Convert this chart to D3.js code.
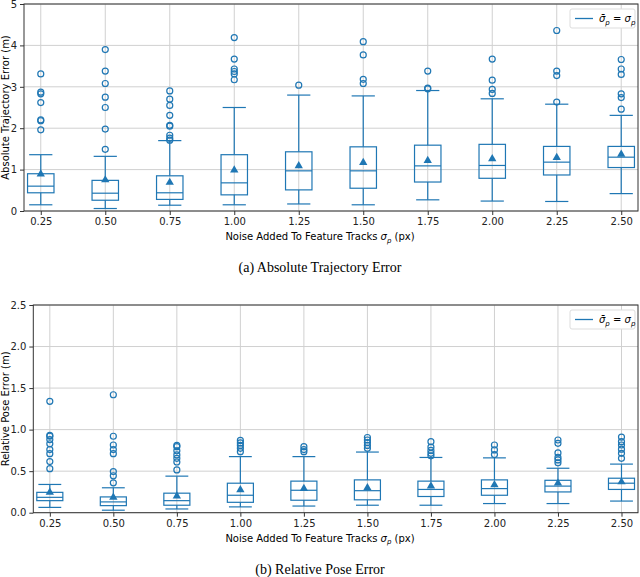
<!DOCTYPE html>
<html>
<head>
<meta charset="utf-8">
<script src="https://cdn.jsdelivr.net/npm/d3@7"></script>
<style>
  body { margin: 0; background: #fff; }
  svg { display: block; }
  .tick text { font-family: "DejaVu Sans", sans-serif; }
</style>
</head>
<body>
<div id="chart"></div>
<script>
// Noise levels on the x axis
const sigmas = [0.25, 0.50, 0.75, 1.00, 1.25, 1.50, 1.75, 2.00, 2.25, 2.50];

// Absolute trajectory error (m): whisker low, Q1, median, Q3, whisker high, mean
const ateLow  = [0.15, 0.06, 0.14, 0.15, 0.17, 0.15, 0.27, 0.24, 0.23, 0.42];
const ateQ1   = [0.44, 0.26, 0.28, 0.39, 0.51, 0.55, 0.70, 0.79, 0.87, 1.05];
const ateMed  = [0.60, 0.43, 0.44, 0.68, 0.97, 0.97, 1.09, 1.10, 1.18, 1.30];
const ateQ3   = [0.90, 0.74, 0.85, 1.36, 1.43, 1.55, 1.59, 1.61, 1.56, 1.56];
const ateHigh = [1.36, 1.32, 1.70, 2.50, 2.80, 2.78, 2.91, 2.71, 2.58, 2.31];
const ateMean = [0.89, 0.75, 0.69, 0.99, 1.09, 1.17, 1.22, 1.26, 1.29, 1.37];
const ateOut  = [
  [1.96, 2.18, 2.20, 2.62, 2.83, 2.87, 3.31],
  [1.49, 1.98, 2.50, 2.75, 3.08, 3.38, 3.90],
  [1.71, 1.76, 1.83, 2.05, 2.07, 2.31, 2.55, 2.70, 2.90],
  [3.17, 3.31, 3.37, 3.43, 3.67, 4.19],
  [3.04],
  [3.08, 3.18, 3.77, 4.09],
  [2.95, 2.97, 3.38],
  [2.84, 2.94, 3.16, 3.67],
  [2.63, 3.27, 3.38, 4.36],
  [2.46, 2.74, 2.83, 3.30, 3.43, 3.66]
];

// Relative pose error (m)
const rpeLow  = [0.064, 0.03, 0.045, 0.07, 0.08, 0.09, 0.09, 0.11, 0.11, 0.14];
const rpeQ1   = [0.145, 0.085, 0.09, 0.125, 0.15, 0.155, 0.195, 0.21, 0.25, 0.28];
const rpeMed  = [0.185, 0.13, 0.145, 0.21, 0.27, 0.265, 0.28, 0.29, 0.32, 0.355];
const rpeQ3   = [0.245, 0.19, 0.235, 0.355, 0.38, 0.395, 0.38, 0.395, 0.39, 0.415];
const rpeHigh = [0.34, 0.30, 0.44, 0.675, 0.675, 0.73, 0.665, 0.66, 0.535, 0.585];
const rpeMean = [0.245, 0.185, 0.20, 0.275, 0.29, 0.30, 0.32, 0.335, 0.355, 0.37];
const rpeOut  = [
  [0.53, 0.615, 0.71, 0.76, 0.83, 0.88, 0.92, 0.93, 1.34],
  [0.36, 0.445, 0.495, 0.71, 0.76, 0.815, 0.92, 1.42],
  [0.515, 0.61, 0.655, 0.695, 0.745, 0.795, 0.81],
  [0.735, 0.775, 0.81, 0.84, 0.87],
  [0.735, 0.76, 0.795],
  [0.775, 0.81, 0.845, 0.875, 0.905],
  [0.685, 0.715, 0.75, 0.79, 0.855],
  [0.70, 0.755, 0.815],
  [0.60, 0.635, 0.665, 0.72, 0.835, 0.875],
  [0.655, 0.715, 0.765, 0.815, 0.855, 0.91]
];

const ateTicks = [0, 1, 2, 3, 4, 5];
const rpeTicks = [0, 0.5, 1.0, 1.5, 2.0, 2.5];

const blue = "#1f77b4";
const W = 640, H = 577;

let svg = d3.select("#chart").append("svg")
    .attr("width", W)
    .attr("height", H);

// Draw one box plot panel
function boxPanel(box, yMax, yTicks, yFmt, yLabel, caption, stats) {

    let step = 0.25,        // spacing between categories
        pad = step * 0.26;  // space between outer boxes and the frame
    let x = d3.scaleLinear()
        .domain([sigmas[0] - pad, sigmas[sigmas.length-1] + pad])
        .range([box.left, box.right]);
    let y = d3.scaleLinear()
        .domain([0, yMax])
        .range([box.bottom, box.top]);
    let px = (x(step) - x(0)); // pixels per category step

    let g = svg.append("g");

    // Grid lines
    g.append("g").selectAll("line").data(sigmas).join("line")
        .attr("x1", d => x(d)).attr("x2", d => x(d))
        .attr("y1", box.top).attr("y2", box.bottom)
        .attr("stroke", "#d0d0d0").attr("stroke-width", 1);
    g.append("g").selectAll("line").data(yTicks).join("line")
        .attr("x1", box.left).attr("x2", box.right)
        .attr("y1", d => y(d)).attr("y2", d => y(d))
        .attr("stroke", "#d0d0d0").attr("stroke-width", 1);

    // Axes
    let xAxis = g.append("g")
        .attr("transform", "translate(0," + box.bottom + ")")
        .call(d3.axisBottom(x).tickValues(sigmas).tickFormat(d3.format(".2f")).tickSizeOuter(0).tickSize(4));
    let yAxis = g.append("g")
        .attr("transform", "translate(" + box.left + ",0)")
        .call(d3.axisLeft(y).tickValues(yTicks).tickFormat(yFmt).tickSizeOuter(0).tickSize(4));
    [xAxis, yAxis].forEach(a => {
        a.select(".domain").remove();
        a.selectAll(".tick line").attr("stroke", "#333");
        a.selectAll(".tick text").style("font-size", "10px").attr("fill", "#222");
    });

    // Frame
    g.append("rect")
        .attr("x", box.left).attr("y", box.top)
        .attr("width", box.right - box.left).attr("height", box.bottom - box.top)
        .attr("fill", "none").attr("stroke", "#333").attr("stroke-width", 1);

    // Boxes
    let bw = px * 0.41, cw = px * 0.36;
    for ( let i = 0; i < sigmas.length; i++ ) {
        let cx = x(sigmas[i]);
        let b = g.append("g").attr("stroke", blue).attr("fill", "none").attr("stroke-width", 1.2);

        // whiskers
        b.append("line").attr("x1", cx).attr("x2", cx)
            .attr("y1", y(stats.low[i])).attr("y2", y(stats.q1[i]));
        b.append("line").attr("x1", cx).attr("x2", cx)
            .attr("y1", y(stats.q3[i])).attr("y2", y(stats.high[i]));
        // caps
        b.append("line").attr("x1", cx - cw/2).attr("x2", cx + cw/2)
            .attr("y1", y(stats.low[i])).attr("y2", y(stats.low[i]));
        b.append("line").attr("x1", cx - cw/2).attr("x2", cx + cw/2)
            .attr("y1", y(stats.high[i])).attr("y2", y(stats.high[i]));
        // box
        b.append("rect")
            .attr("x", cx - bw/2).attr("y", y(stats.q3[i]))
            .attr("width", bw).attr("height", y(stats.q1[i]) - y(stats.q3[i]));
        // median
        b.append("line").attr("x1", cx - bw/2).attr("x2", cx + bw/2)
            .attr("y1", y(stats.med[i])).attr("y2", y(stats.med[i]));

        // outliers
        b.selectAll("circle").data(stats.out[i]).join("circle")
            .attr("cx", cx).attr("cy", d => y(d)).attr("r", 3);

        // mean marker
        let my = y(stats.mean[i]);
        g.append("path")
            .attr("d", d3.symbol(d3.symbolTriangle, 30)())
            .attr("transform", "translate(" + cx + "," + my + ")")
            .attr("fill", blue);
    }

    // Legend
    let lx = box.right - 68, ly = box.top + 5;
    g.append("rect")
        .attr("x", lx).attr("y", ly).attr("width", 65).attr("height", 19)
        .attr("rx", 2).attr("fill", "#fff").attr("stroke", "#ddd");
    g.append("line")
        .attr("x1", lx + 5).attr("x2", lx + 23)
        .attr("y1", ly + 9.5).attr("y2", ly + 9.5)
        .attr("stroke", blue).attr("stroke-width", 1.3);
    let lt = g.append("text")
        .attr("x", lx + 29).attr("y", ly + 13)
        .style("font-family", "DejaVu Sans, sans-serif")
        .style("font-size", "10px").style("font-style", "italic");
    lt.append("tspan").text("σ\u0304");
    lt.append("tspan").text("p").attr("dy", 2.5).style("font-size", "7px");
    lt.append("tspan").text(" = σ").attr("dy", -2.5);
    lt.append("tspan").text("p").attr("dy", 2.5).style("font-size", "7px");

    // Y label
    g.append("text")
        .attr("transform", "translate(" + 9 + "," + ((box.top + box.bottom)/2) + ") rotate(-90)")
        .attr("text-anchor", "middle")
        .style("font-family", "DejaVu Sans, sans-serif").style("font-size", "10px")
        .text(yLabel);

    // X label
    let xl = g.append("text")
        .attr("x", 320).attr("y", box.bottom + 29)
        .attr("text-anchor", "middle")
        .style("font-family", "DejaVu Sans, sans-serif").style("font-size", "10px");
    xl.append("tspan").text("Noise Added To Feature Tracks ");
    xl.append("tspan").text("σ").style("font-style", "italic");
    xl.append("tspan").text("p").attr("dy", 2.5).style("font-size", "7px").style("font-style", "italic");
    xl.append("tspan").text(" (px)").attr("dy", -2.5);

    // Caption
    g.append("text")
        .attr("x", 320).attr("y", box.bottom + 61)
        .attr("text-anchor", "middle")
        .style("font-family", "Liberation Serif, serif").style("font-size", "14px")
        .text(caption);
}

boxPanel({ left: 24, right: 638, top: 4, bottom: 211 }, 5, ateTicks, d3.format("d"),
    "Absolute Trajectory Error (m)", "(a)  Absolute Trajectory Error",
    { low: ateLow, q1: ateQ1, med: ateMed, q3: ateQ3, high: ateHigh, mean: ateMean, out: ateOut });

boxPanel({ left: 33.3, right: 638, top: 305, bottom: 512.7 }, 2.5, rpeTicks, d3.format(".1f"),
    "Relative Pose Error (m)", "(b)  Relative Pose Error",
    { low: rpeLow, q1: rpeQ1, med: rpeMed, q3: rpeQ3, high: rpeHigh, mean: rpeMean, out: rpeOut });
</script>
</body>
</html>
